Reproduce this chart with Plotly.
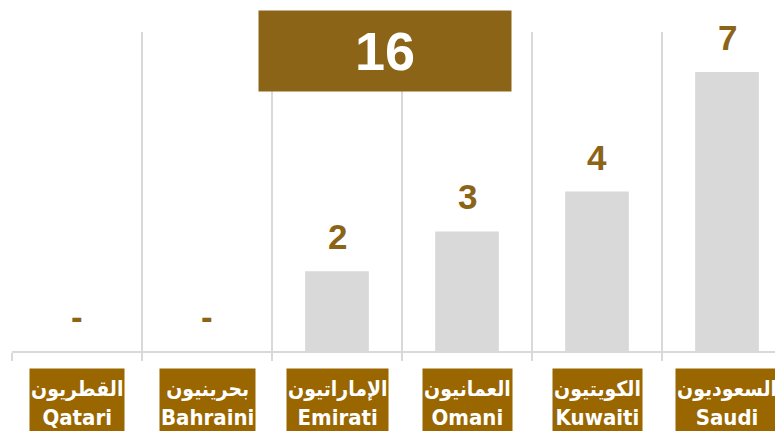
import plotly.graph_objects as go

categories_ar = ["القطريون", "بحرينيون", "الإماراتيون", "العمانيون", "الكويتيون", "السعوديون"]
categories_en = ["Qatari", "Bahraini", "Emirati", "Omani", "Kuwaiti", "Saudi"]
values = [0, 0, 2, 3, 4, 7]

BAR = "#d9d9d9"
BROWN = "#8b6418"
LABEL_BG = "#996600"
GRID = "#d9d9d9"

# page body has an 8px margin; size the figure so it fills the 783x431 window
OFF = 8
W, H = 783 - OFF, 431 - OFF
ML, MR, MT, MB = 12 - OFF, 0, 32 - OFF, 80
cat_px = 130.0
plot_w = W - ML - MR
plot_h = H - MT - MB
x_hi = -0.5 + plot_w / cat_px


def px_to_paper_x(px):
    return (px - OFF - ML) / plot_w


def px_to_paper_y(py):
    return ((OFF + MT + plot_h) - py) / plot_h


xs = list(range(len(values)))
fig = go.Figure()
fig.add_trace(go.Bar(x=xs, y=values, marker=dict(color=BAR, line=dict(width=0)),
                     width=0.49, hoverinfo="skip"))

# value labels above bars
for x, v in zip(xs, values):
    fig.add_annotation(x=x, y=v, xref="x", yref="y", text=str(v) if v else "-",
                       showarrow=False, yanchor="bottom", yshift=13,
                       font=dict(family="Arial Black, Liberation Sans, Arial", size=35,
                                 color=BROWN, weight="bold"))

# category labels
for x, ar, en in zip(xs, categories_ar, categories_en):
    fig.add_annotation(x=x, y=px_to_paper_y(368), xref="x", yref="paper",
                       text=f"<span style='font-size:21px'>{ar}</span><br>{en}",
                       showarrow=False, yanchor="top", height=67, valign="middle",
                       align="center", bgcolor=LABEL_BG, borderpad=1,
                       font=dict(family="Liberation Sans Narrow, DejaVu Sans Condensed, Arial",
                                 size=22, color="white", weight="bold"))

# total box
total = sum(values)
fig.add_annotation(x=px_to_paper_x(385), y=px_to_paper_y(51), xref="paper", yref="paper",
                   text=str(total), showarrow=False, xanchor="center", yanchor="middle",
                   width=252, height=80, bgcolor=BROWN, borderpad=0,
                   font=dict(family="Liberation Sans, Arial", size=54, color="white", weight="bold"))

fig.update_layout(
    width=W, height=H, margin=dict(l=ML, r=MR, t=MT, b=MB),
    paper_bgcolor="white", plot_bgcolor="white", showlegend=False,
    xaxis=dict(range=[-0.5, x_hi], tickmode="array",
               tickvals=[i - 0.5 for i in range(len(values) + 1)],
               showticklabels=False, showgrid=True, gridcolor=GRID, gridwidth=2,
               ticks="outside", ticklen=8, tickwidth=2, tickcolor=GRID,
               showline=True, linecolor=GRID, linewidth=2, zeroline=False,
               fixedrange=True),
    yaxis=dict(range=[0, 8], showgrid=False, showticklabels=False, zeroline=False,
               showline=False, fixedrange=True),
)

fig.write_html("out.html")
